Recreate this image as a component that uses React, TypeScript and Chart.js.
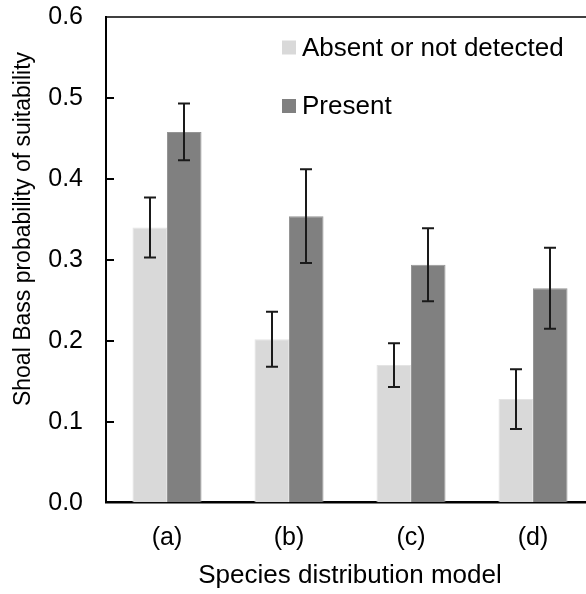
import React, { useEffect, useRef } from "react";
import { Chart, registerables } from "chart.js";

Chart.register(...registerables);

const FONT = '"Liberation Sans", Arial, Helvetica, sans-serif';

const categories = ["(a)", "(b)", "(c)", "(d)"];
const seriesNames = ["Absent or not detected", "Present"];
const absentMeans = [0.34, 0.202, 0.17, 0.128];
const absentErrors = [0.037, 0.034, 0.027, 0.037];
const presentMeans = [0.458, 0.354, 0.294, 0.265];
const presentErrors = [0.035, 0.058, 0.045, 0.05];
const yTicks = [0, 0.1, 0.2, 0.3, 0.4, 0.5, 0.6];
const xTitle = "Species distribution model";
const yTitle = "Shoal Bass probability of suitability";

const LIGHT = "#d9d9d9";
const DARK = "#808080";

// Error bars (mean ± error) drawn on top of each bar
const errorBarPlugin = {
  id: "errorBars",
  afterDatasetsDraw(chart: any) {
    const ctx = chart.ctx;
    const yScale = chart.scales.y;
    ctx.save();
    ctx.strokeStyle = "#1a1a1a";
    ctx.lineWidth = 2;
    chart.data.datasets.forEach((ds: any, di: number) => {
      const meta = chart.getDatasetMeta(di);
      meta.data.forEach((bar: any, i: number) => {
        const v = ds.data[i];
        const e = ds.errors[i];
        const x = Math.round(bar.x);
        const yHi = yScale.getPixelForValue(v + e);
        const yLo = yScale.getPixelForValue(v - e);
        const cap = 6;
        ctx.beginPath();
        ctx.moveTo(x, yHi);
        ctx.lineTo(x, yLo);
        ctx.moveTo(x - cap, yHi);
        ctx.lineTo(x + cap, yHi);
        ctx.moveTo(x - cap, yLo);
        ctx.lineTo(x + cap, yLo);
        ctx.stroke();
      });
    });
    ctx.restore();
  },
};

// Frame top line, inward ticks, y title and legend
const decorPlugin = {
  id: "decor",
  afterDraw(chart: any) {
    const ctx = chart.ctx;
    const area = chart.chartArea;
    const yScale = chart.scales.y;
    ctx.save();
    ctx.strokeStyle = "#000";
    ctx.lineWidth = 1.5;
    ctx.beginPath();
    ctx.moveTo(area.left, area.top);
    ctx.lineTo(area.right, area.top);
    ctx.stroke();

    ctx.lineWidth = 2;
    yTicks.forEach((t) => {
      if (t <= 0 || t >= 0.6) return;
      const y = Math.round(yScale.getPixelForValue(t));
      ctx.beginPath();
      ctx.moveTo(area.left, y);
      ctx.lineTo(area.left + 8, y);
      ctx.stroke();
    });

    // y-axis title
    ctx.fillStyle = "#000";
    ctx.font = `23px ${FONT}`;
    ctx.textAlign = "center";
    ctx.textBaseline = "middle";
    ctx.translate(24, 229);
    ctx.rotate(-Math.PI / 2);
    ctx.fillText(yTitle, 0, 0);
    ctx.setTransform(1, 0, 0, 1, 0, 0);

    // legend
    const rows = [
      { label: seriesNames[0], color: LIGHT, y: 47.5 },
      { label: seriesNames[1], color: DARK, y: 106 },
    ];
    ctx.font = `26px ${FONT}`;
    ctx.textAlign = "left";
    ctx.textBaseline = "middle";
    rows.forEach((r) => {
      ctx.fillStyle = r.color;
      ctx.fillRect(282, r.y - 7, 14, 14);
      ctx.fillStyle = "#000";
      ctx.fillText(r.label, 302, r.y + 1);
    });
    ctx.restore();
  },
};

export default function App() {
  const ref = useRef<HTMLCanvasElement | null>(null);

  useEffect(() => {
    if (!ref.current) return;
    const chart = new Chart(ref.current, {
      type: "bar",
      data: {
        labels: categories,
        datasets: [
          {
            label: seriesNames[0],
            data: absentMeans,
            errors: absentErrors,
            backgroundColor: LIGHT,
            borderColor: "#e4e4e4",
            borderWidth: 1,
            categoryPercentage: 0.566,
            barPercentage: 1,
          } as any,
          {
            label: seriesNames[1],
            data: presentMeans,
            errors: presentErrors,
            backgroundColor: DARK,
            borderColor: "#959595",
            borderWidth: 1,
            categoryPercentage: 0.566,
            barPercentage: 1,
          } as any,
        ],
      },
      options: {
        responsive: false,
        animation: false,
        devicePixelRatio: 1,
        layout: { padding: { top: 17, right: 6, left: 0, bottom: 0 } },
        plugins: {
          legend: { display: false },
          tooltip: { enabled: false },
        },
        scales: {
          x: {
            grid: {
              drawOnChartArea: false,
              drawTicks: true,
              tickLength: 20,
              tickColor: "rgba(0,0,0,0)",
            },
            border: { color: "#000", width: 2.5 },
            ticks: {
              color: "#000",
              font: { family: FONT, size: 25 },
              padding: 0,
            },
            title: {
              display: true,
              text: xTitle,
              color: "#000",
              font: { family: FONT, size: 26 },
              padding: { top: 3, bottom: 3 },
            },
            afterFit(scale: any) {
              scale.height = 91.3;
            },
          },
          y: {
            min: 0,
            max: 0.6,
            grid: {
              drawOnChartArea: false,
              drawTicks: true,
              tickLength: 23,
              tickColor: "rgba(0,0,0,0)",
            },
            border: { color: "#000", width: 2 },
            ticks: {
              stepSize: 0.1,
              color: "#000",
              font: { family: FONT, size: 25 },
              padding: 0,
              callback: (v: any) => Number(v).toFixed(1),
            },
            afterFit(scale: any) {
              scale.width = 106;
            },
          },
        },
      },
      plugins: [errorBarPlugin, decorPlugin],
    } as any);
    return () => chart.destroy();
  }, []);

  return (
    <div
      style={{
        position: "fixed",
        left: 0,
        top: 0,
        width: 586,
        height: 594,
        overflow: "hidden",
        background: "#fff",
      }}
    >
      <canvas ref={ref} width={600} height={594} style={{ display: "block" }} />
    </div>
  );
}
